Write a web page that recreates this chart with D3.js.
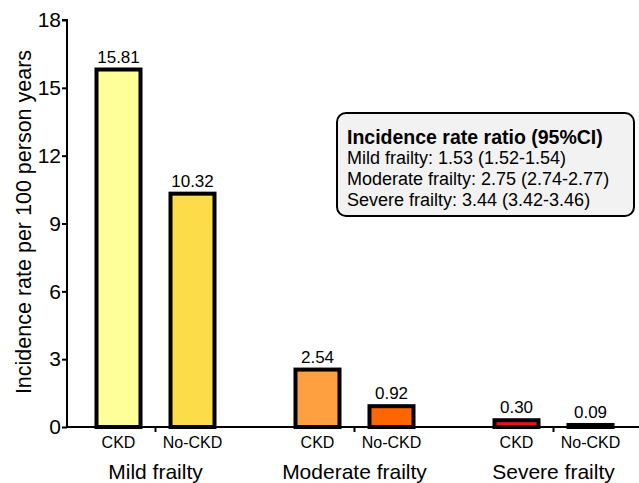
<!DOCTYPE html>
<html>
<head>
<meta charset="utf-8">
<script src="https://cdn.jsdelivr.net/npm/d3@7"></script>
<style>
  body { margin: 0; background: #fff; }
  text { font-family: Arial, "Liberation Sans", sans-serif; fill: #000; }
</style>
</head>
<body>
<div id="chart"></div>
<script>
// 数据
const groups = ['Mild frailty', 'Moderate frailty', 'Severe frailty'];
const subgroups = ['CKD', 'No-CKD'];
const ckdValues = [15.81, 2.54, 0.30];
const noCkdValues = [10.32, 0.92, 0.09];
const yTicks = [0, 3, 6, 9, 12, 15, 18];
const barColors = [
  ['#ffff99', '#fcdc48'],
  ['#ffa040', '#ff6600'],
  ['#e8141c', '#8b0000']
];
const legendTitle = 'Incidence rate ratio (95%CI)';
const legendLines = [
  'Mild frailty: 1.53 (1.52-1.54)',
  'Moderate frailty: 2.75 (2.74-2.77)',
  'Severe frailty: 3.44 (3.42-3.46)'
];

const width = 639, height = 483;
const margin = { left: 67, right: 0, top: 20, bottom: 56 };
const fontFamily = 'Arial, "Liberation Sans", sans-serif';

const svg = d3.select('#chart').append('svg')
  .attr('width', width)
  .attr('height', height);

// 比例尺
const y = d3.scaleLinear().domain([0, 18]).range([height - margin.bottom, margin.top]);
const x = d3.scaleBand().domain(groups).range([56, 653]);
const xSub = d3.scaleBand().domain(subgroups).range([-74, 74]);

const rows = [];
groups.forEach((g, i) => {
  rows.push({ group: g, sub: 'CKD', value: ckdValues[i], color: barColors[i][0] });
  rows.push({ group: g, sub: 'No-CKD', value: noCkdValues[i], color: barColors[i][1] });
});

const center = g => x(g) + x.bandwidth() / 2;
const subCenter = d => center(d.group) + xSub(d.sub) + xSub.bandwidth() / 2;
const barW = 44;

// 柱子
svg.append('g')
  .selectAll('rect')
  .data(rows)
  .enter()
  .append('rect')
  .attr('x', d => subCenter(d) - barW / 2)
  .attr('y', d => y(d.value))
  .attr('width', barW)
  .attr('height', d => y(0) - y(d.value))
  .attr('fill', d => d.color)
  .attr('stroke', '#000')
  .attr('stroke-width', 4);

// 数值标签
svg.append('g')
  .selectAll('text')
  .data(rows)
  .enter()
  .append('text')
  .attr('x', d => subCenter(d))
  .attr('y', d => y(d.value) - 7)
  .attr('text-anchor', 'middle')
  .attr('font-size', 17)
  .text(d => d.value.toFixed(2));

// y 轴
const yAxis = svg.append('g')
  .attr('transform', `translate(${margin.left},0)`)
  .call(d3.axisLeft(y).tickValues(yTicks).tickSize(5).tickPadding(1));
yAxis.select('.domain').attr('stroke-width', 2).attr('d', `M-5,${y(18)}H0V${y(0)}`);
yAxis.selectAll('.tick line').attr('stroke-width', 2);
yAxis.selectAll('.tick text').attr('font-size', 21).style('font-family', fontFamily);

// x 轴
svg.append('line')
  .attr('x1', margin.left).attr('x2', width)
  .attr('y1', y(0)).attr('y2', y(0))
  .attr('stroke', '#000').attr('stroke-width', 2);
svg.append('g')
  .selectAll('line')
  .data(groups)
  .enter()
  .append('line')
  .attr('x1', d => center(d)).attr('x2', d => center(d))
  .attr('y1', y(0)).attr('y2', y(0) + 5)
  .attr('stroke', '#000').attr('stroke-width', 2);

// 子类标签
svg.append('g')
  .selectAll('text')
  .data(rows)
  .enter()
  .append('text')
  .attr('x', d => subCenter(d))
  .attr('y', 448)
  .attr('text-anchor', 'middle')
  .attr('font-size', 16)
  .text(d => d.sub);

// 分组标签
svg.append('g')
  .selectAll('text')
  .data(groups)
  .enter()
  .append('text')
  .attr('x', d => center(d))
  .attr('y', 479)
  .attr('text-anchor', 'middle')
  .attr('font-size', 21)
  .text(d => d);

// y 轴标题
svg.append('text')
  .attr('transform', 'translate(31,222) rotate(-90)')
  .attr('text-anchor', 'middle')
  .attr('font-size', 21.5)
  .text('Incidence rate per 100 person years');

// 图例框
const box = svg.append('g').attr('transform', 'translate(337,113)');
box.append('rect')
  .attr('width', 297).attr('height', 103)
  .attr('rx', 9).attr('ry', 9)
  .attr('fill', '#f2f2f2')
  .attr('stroke', '#000').attr('stroke-width', 2);
box.append('text')
  .attr('x', 10).attr('y', 31)
  .attr('font-size', 19.5).attr('font-weight', 'bold')
  .text(legendTitle);
box.selectAll('.line')
  .data(legendLines)
  .enter()
  .append('text')
  .attr('class', 'line')
  .attr('x', 10)
  .attr('y', (d, i) => 51 + i * 21)
  .attr('font-size', 18)
  .text(d => d);
</script>
</body>
</html>
